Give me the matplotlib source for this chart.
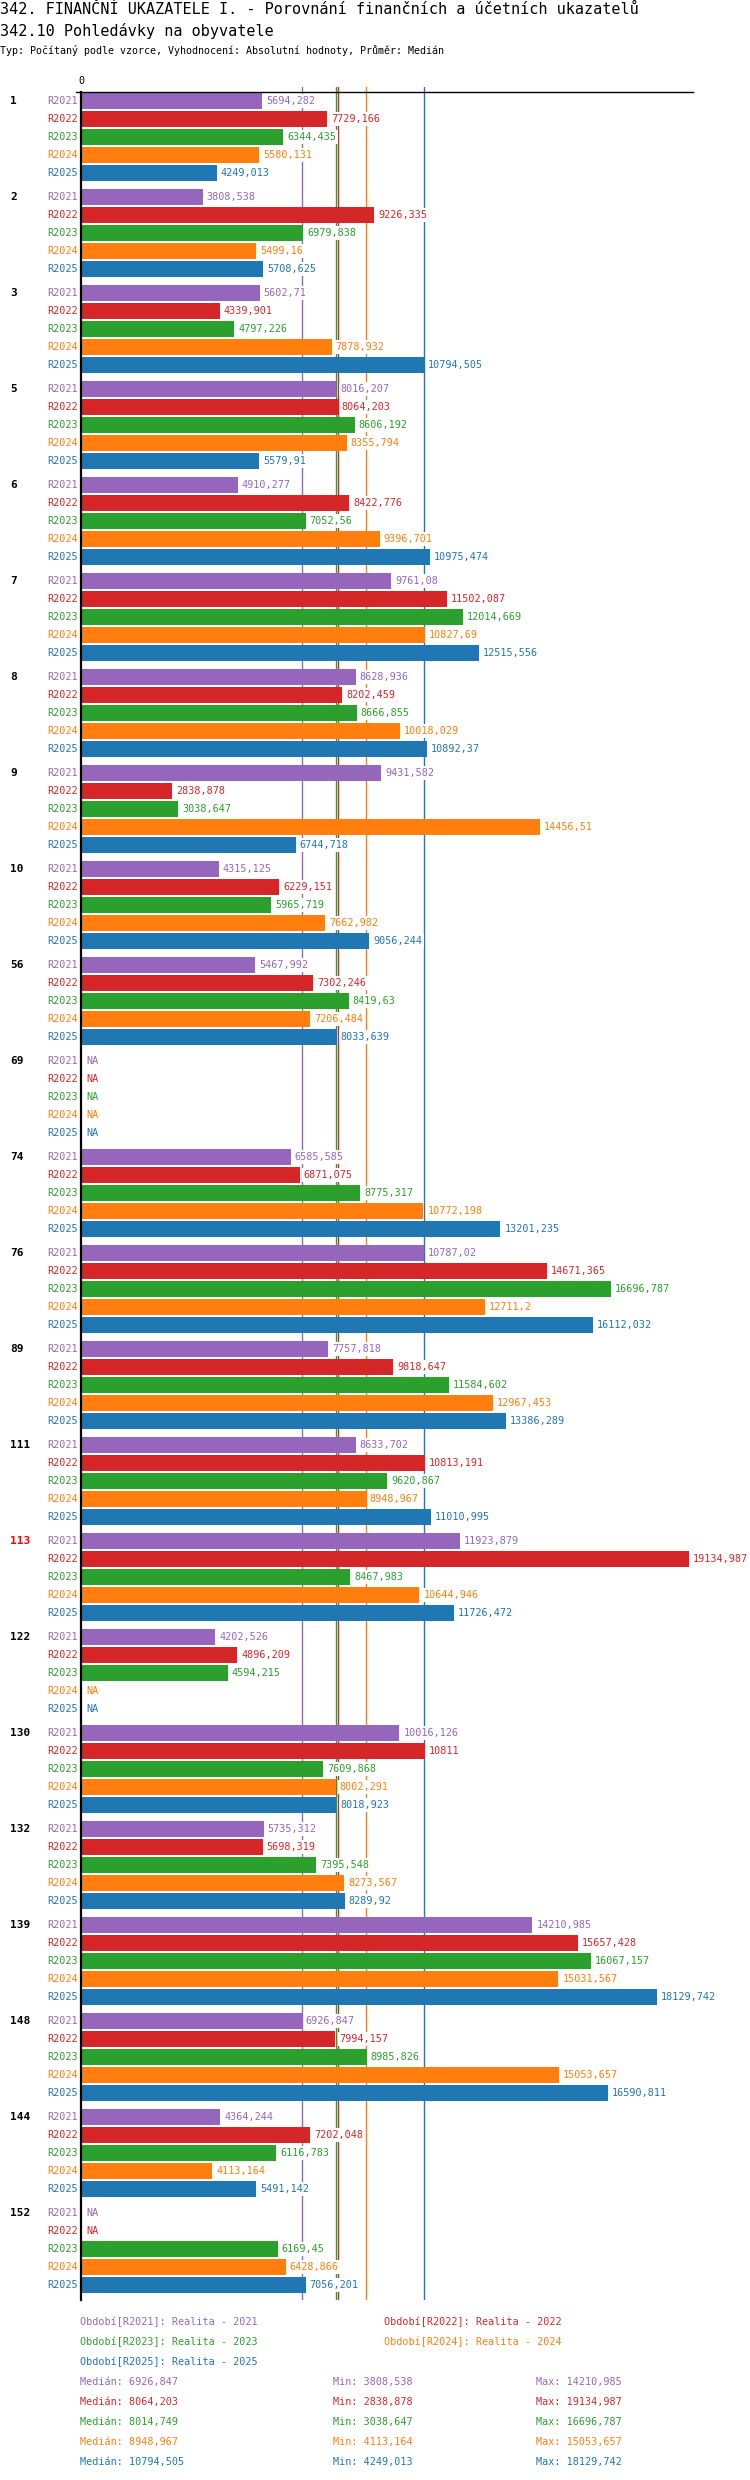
import numpy as np
import matplotlib
matplotlib.use('Agg')
import matplotlib.pyplot as plt
from matplotlib.lines import Line2D

plt.rcParams['font.family'] = ['DejaVu Sans Mono', 'DejaVu Sans']

# ---------------- data ----------------
groups = ['1', '2', '3', '5', '6', '7', '8', '9', '10', '56', '69', '74', '76',
          '89', '111', '113', '122', '130', '132', '139', '148', '144', '152']
highlight_group = '113'
periods = ['R2021', 'R2022', 'R2023', 'R2024', 'R2025']
legend_names = ['Období[R2021]: Realita - 2021', 'Období[R2022]: Realita - 2022',
                'Období[R2023]: Realita - 2023', 'Období[R2024]: Realita - 2024',
                'Období[R2025]: Realita - 2025']
NA = np.nan
r2021 = [5694.282, 3808.538, 5602.71, 8016.207, 4910.277, 9761.08, 8628.936, 9431.582,
         4315.125, 5467.992, NA, 6585.585, 10787.02, 7757.818, 8633.702, 11923.879,
         4202.526, 10016.126, 5735.312, 14210.985, 6926.847, 4364.244, NA]
r2022 = [7729.166, 9226.335, 4339.901, 8064.203, 8422.776, 11502.087, 8202.459, 2838.878,
         6229.151, 7302.246, NA, 6871.075, 14671.365, 9818.647, 10813.191, 19134.987,
         4896.209, 10811, 5698.319, 15657.428, 7994.157, 7202.048, NA]
r2023 = [6344.435, 6979.838, 4797.226, 8606.192, 7052.56, 12014.669, 8666.855, 3038.647,
         5965.719, 8419.63, NA, 8775.317, 16696.787, 11584.602, 9620.867, 8467.983,
         4594.215, 7609.868, 7395.548, 16067.157, 8985.826, 6116.783, 6169.45]
r2024 = [5580.131, 5499.16, 7878.932, 8355.794, 9396.701, 10827.69, 10018.029, 14456.51,
         7662.982, 7206.484, NA, 10772.198, 12711.2, 12967.453, 8948.967, 10644.946,
         NA, 8002.291, 8273.567, 15031.567, 15053.657, 4113.164, 6428.866]
r2025 = [4249.013, 5708.625, 10794.505, 5579.91, 10975.474, 12515.556, 10892.37, 6744.718,
         9056.244, 8033.639, NA, 13201.235, 16112.032, 13386.289, 11010.995, 11726.472,
         NA, 8018.923, 8289.92, 18129.742, 16590.811, 5491.142, 7056.201]
series = [r2021, r2022, r2023, r2024, r2025]
colors = ['#9467bd', '#d62728', '#2ca02c', '#ff7f0e', '#1f77b4']

title = '342. FINANČNÍ UKAZATELE I. - Porovnání finančních a účetních ukazatelů'
subtitle = '342.10 Pohledávky na obyvatele'
info = 'Typ: Počítaný podle vzorce, Vyhodnocení: Absolutní hodnoty, Průměr: Medián'


def fmt(v):
    s = format(v, '.3f').rstrip('0').rstrip('.')
    return s.replace('.', ',')


# ---------------- layout (pixels) ----------------
W, H = 750, 2480
X0, X1 = 82, 688.5
Y_TOP, Y_BOT = 87, 2300
FIRST, ROW, GSTEP, BAR_H = 101, 18, 96, 16
FS = 7.3

fig = plt.figure(figsize=(W / 100, H / 100), dpi=100)
fig.patch.set_facecolor('white')


def fx(x):
    return x / W


def fy(y):
    return 1 - y / H


ax = fig.add_axes([fx(X0), fy(Y_BOT), (X1 - X0) / W, (Y_BOT - Y_TOP) / H])
arr = np.array(series, dtype=float)
xmax = np.nanmax(arr)
ax.set_xlim(0, xmax)
ax.set_ylim(Y_BOT, Y_TOP)
ax.axis('off')

# median lines
medians = [np.nanmedian(np.array(s, dtype=float)) for s in series]
for m, c in zip(medians, colors):
    ax.axvline(m, color=c, lw=1.0, zorder=1)

# bars
for k, (s, c, p) in enumerate(zip(series, colors, periods)):
    ys = [FIRST + g * GSTEP + k * ROW for g in range(len(groups))]
    vals = np.array(s, dtype=float)
    ax.barh(ys, np.nan_to_num(vals), height=BAR_H, color=c, zorder=2)
    for y, v in zip(ys, vals):
        lab = 'NA' if np.isnan(v) else fmt(v)
        xv = 0 if np.isnan(v) else v
        ax.annotate(lab, xy=(xv, y), xytext=(4, 0), textcoords='offset pixels',
                    ha='left', va='center', color=c, fontsize=FS, zorder=4,
                    annotation_clip=False,
                    bbox=dict(boxstyle='square,pad=0.15', fc='white', ec='none'))
        ax.annotate(p, xy=(0, y), xytext=(-4, 0), textcoords='offset pixels',
                    ha='right', va='center', color=c, fontsize=FS,
                    annotation_clip=False)

# group labels
for g, name in enumerate(groups):
    y = FIRST + g * GSTEP
    fig.text(fx(10), fy(y), name, ha='left', va='center', fontsize=8,
             fontweight='bold', color='red' if name == highlight_group else 'black')

# axis lines
fig.add_artist(Line2D([fx(76), fx(693)], [fy(92), fy(92)], color='black', lw=1.0))
fig.add_artist(Line2D([fx(81), fx(81)], [fy(92), fy(Y_BOT)], color='black', lw=1.6))
fig.text(fx(81), fy(81), '0', ha='center', va='center', fontsize=FS, color='black')

# titles
fig.text(fx(0), fy(9), title, ha='left', va='center', fontsize=10.9, color='black')
fig.text(fx(0), fy(31), subtitle, ha='left', va='center', fontsize=10.9, color='black')
fig.text(fx(0), fy(51), info, ha='left', va='center', fontsize=7.2, color='black')

# legend
leg_pos = [(80, 2322), (384, 2322), (80, 2342), (384, 2342), (80, 2362)]
for (x, y), name, c in zip(leg_pos, legend_names, colors):
    fig.text(fx(x), fy(y), name, ha='left', va='center', fontsize=FS, color=c)

# statistics
for k, (s, c) in enumerate(zip(series, colors)):
    vals = np.array(s, dtype=float)
    y = 2382 + k * 20
    fig.text(fx(80), fy(y), 'Medián: ' + fmt(np.nanmedian(vals)), ha='left', va='center',
             fontsize=FS, color=c)
    fig.text(fx(333), fy(y), 'Min: ' + fmt(np.nanmin(vals)), ha='left', va='center',
             fontsize=FS, color=c)
    fig.text(fx(536), fy(y), 'Max: ' + fmt(np.nanmax(vals)), ha='left', va='center',
             fontsize=FS, color=c)

fig.savefig('out.png', dpi=100, facecolor='white')
